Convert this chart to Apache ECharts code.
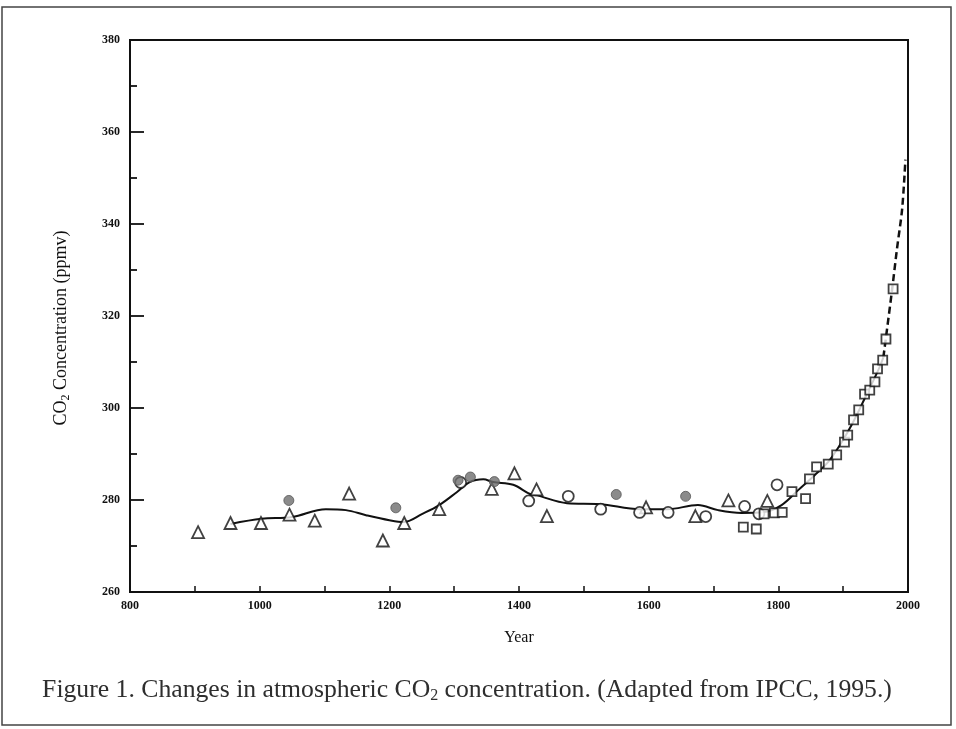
<!DOCTYPE html>
<html>
<head>
<meta charset="utf-8">
<script src="https://cdn.jsdelivr.net/npm/echarts@6/dist/echarts.min.js"></script>
<style>
  html, body { margin: 0; padding: 0; background: #fff; }
  #main { width: 956px; height: 729px; }
</style>
</head>
<body>
<div id="main"></div>
<script>
// values: [year, ppmv]
const triangles = [[905,273],[955,275],[1002,275],[1046,276.8],[1085,275.5],[1138,281.4],[1190,271.2],
  [1223,275],[1277,278],[1358,282.4],[1393,285.8],[1427,282.3],[1443,276.5],[1596,278.4],[1672,276.5],
  [1723,279.9],[1783,279.8]]
const openCircles = [[1310,283.8],[1415,279.8],[1476,280.8],[1526,278],[1586,277.3],[1630,277.3],
  [1688,276.4],[1748,278.6],[1770,277],[1798,283.3]]
const filledCircles = [[1045,279.9],[1210,278.3],[1306,284.3],[1325,285],[1362,284],[1550,281.2],[1657,280.8]]
const squares = [[1746,274.1],[1766,273.7],[1778,277],[1794,277.2],[1806,277.3],[1821,281.8],[1842,280.3],
  [1848,284.6],[1859,287.2],[1877,287.8],[1890,289.8],[1902,292.6],[1907,294.1],[1916,297.4],[1924,299.6],
  [1933,303],[1941,303.9],[1949,305.7],[1953,308.5],[1961,310.4],[1966,315],[1977,325.9]]
const trendSolid = [[955,274.8],[1003,275.9],[1050,276.3],[1102,278],[1133,277.8],[1164,276.7],[1200,275.6],
  [1222,275.2],[1251,277],[1277,278.9],[1304,281.7],[1324,283.9],[1345,284.5],[1360,283.9],[1391,283.3],
  [1417,281.3],[1428,281],[1474,279.3],[1525,279.1],[1587,278],[1629,278],[1676,278.9],[1707,277.8],
  [1743,277.2],[1778,277.4],[1805,278.9],[1831,282.2],[1856,285.4],[1877,288.3],[1893,291.5],[1913,296.3],
  [1933,302],[1955,308.5],[1962,311]]
const trendDashed = [[1962,311],[1975,325.2],[1983,334.6],[1991,343.3],[1996,354]]

const serif = '"Liberation Serif", "DejaVu Serif", serif'
const ink = '#111'

const openMark = (name, symbol, size, data) => ({
  name, type: 'scatter', symbol, symbolSize: size, data, z: 3,
  itemStyle: { color: '#fff', borderColor: ink, borderWidth: 1.8 }
})

const chart = echarts.init(document.getElementById('main'))
chart.setOption({
  backgroundColor: '#fff',
  animation: false,
  title: {
    text: 'Figure 1. Changes in atmospheric {s|CO}{sub|2} concentration. (Adapted from IPCC, 1995.)',
    left: 462, top: 672, textAlign: 'center',
    textStyle: {
      fontFamily: serif, fontSize: 25.7, fontWeight: 'normal', color: '#2e2e2e',
      rich: {
        s: { fontFamily: serif, fontSize: 25.7, color: '#2e2e2e' },
        sub: { fontFamily: serif, fontSize: 16, color: '#2e2e2e', padding: [11, 0, 0, 0] }
      }
    }
  },
  graphic: [{
    type: 'rect', silent: true,
    shape: { x: 2, y: 7, width: 949, height: 718 },
    style: { fill: 'none', stroke: '#444', lineWidth: 1.5 }
  }],
  grid: { left: 130, right: 48, top: 40, bottom: 137, show: true, borderColor: ink, borderWidth: 2 },
  xAxis: {
    type: 'value', min: 800, max: 2000, interval: 100,
    name: 'Year', nameLocation: 'middle', nameGap: 38,
    nameTextStyle: { fontFamily: serif, fontSize: 16, color: ink },
    axisLine: { lineStyle: { color: ink, width: 2 } },
    axisTick: { inside: true, length: 6, lineStyle: { color: ink, width: 1.5 } },
    axisLabel: { fontFamily: serif, fontSize: 12, fontWeight: 'bold', color: ink, margin: 8,
      formatter: v => (v % 200 === 0 ? String(v) : '') },
    splitLine: { show: false }
  },
  yAxis: {
    type: 'value', min: 260, max: 380, interval: 20,
    name: '{a|CO}{b|2}{a| Concentration (ppmv)}', nameLocation: 'middle', nameGap: 58, nameRotate: 90,
    nameTextStyle: {
      fontFamily: serif, fontSize: 18, color: ink, padding: [0, 24, 0, 0],
      rich: {
        a: { fontFamily: serif, fontSize: 18, color: ink },
        b: { fontFamily: serif, fontSize: 12, color: ink, padding: [9, 0, 0, 0] }
      }
    },
    axisLine: { lineStyle: { color: ink, width: 2 } },
    axisTick: { inside: true, length: 14, lineStyle: { color: ink, width: 1.8 } },
    minorTick: { show: true, splitNumber: 2, length: 7, lineStyle: { color: ink, width: 1.8 } },
    axisLabel: { fontFamily: serif, fontSize: 12, fontWeight: 'bold', color: ink, margin: 10 },
    splitLine: { show: false }
  },
  series: [
    { name: 'trend', type: 'line', data: trendSolid, smooth: 0.35, symbol: 'none', z: 2,
      lineStyle: { color: ink, width: 2 } },
    { name: 'trend (dashed)', type: 'line', data: trendDashed, smooth: 0.3, symbol: 'none', z: 2,
      lineStyle: { color: ink, width: 2.5, type: [7, 4] } },
    openMark('triangles', 'triangle', 12, triangles),
    openMark('open circles', 'circle', 11, openCircles),
    openMark('squares', 'rect', 9, squares),
    { name: 'filled circles', type: 'scatter', symbol: 'circle', symbolSize: 10, data: filledCircles, z: 4,
      itemStyle: { color: '#6e6e6e', borderColor: '#555', borderWidth: 1 } }
  ]
})
window.onresize = () => { chart.resize() }
</script>
</body>
</html>
